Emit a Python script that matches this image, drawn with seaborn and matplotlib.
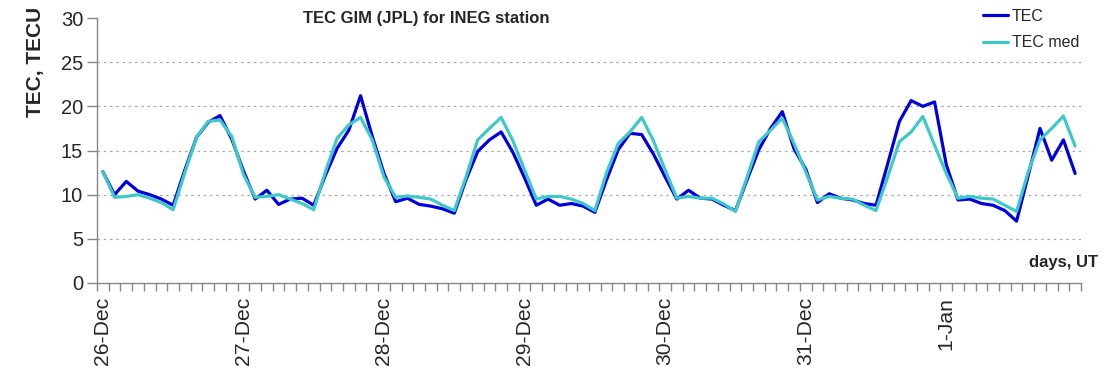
import numpy as np
import pandas as pd
import matplotlib
matplotlib.use("Agg")
import matplotlib.pyplot as plt
import seaborn as sns

# ---- data (2-hour values, 26-Dec .. 1-Jan) ----
tec = [12.6, 10.0, 11.5, 10.4, 10.0, 9.5, 8.8, 12.8, 16.5, 18.2, 18.95, 16.3,
       12.7, 9.5, 10.5, 8.9, 9.5, 9.6, 8.8, 12.2, 15.25, 17.3, 21.2, 16.6,
       12.4, 9.2, 9.6, 8.9, 8.7, 8.4, 7.9, 11.7, 14.9, 16.2, 17.1, 14.8,
       11.9, 8.8, 9.5, 8.8, 9.0, 8.7, 8.0, 11.7, 15.1, 16.95, 16.8, 14.6,
       12.0, 9.5, 10.5, 9.6, 9.5, 8.8, 8.2, 11.7, 15.1, 17.5, 19.4, 15.2,
       12.9, 9.1, 10.1, 9.6, 9.4, 9.0, 8.8, 13.5, 18.3, 20.65, 20.0, 20.5,
       13.4, 9.4, 9.5, 9.0, 8.8, 8.2, 7.0, 12.2, 17.5, 13.9, 16.2, 12.4]
tec_med = [12.6, 9.7, 9.8, 10.0, 9.6, 9.1, 8.3, 12.5, 16.5, 18.3, 18.45, 16.6,
           12.3, 9.7, 9.8, 10.0, 9.5, 9.0, 8.3, 12.6, 16.4, 17.9, 18.75, 16.2,
           12.0, 9.7, 9.85, 9.7, 9.5, 8.8, 8.2, 12.0, 16.2, 17.5, 18.75, 16.1,
           12.8, 9.5, 9.8, 9.8, 9.5, 9.0, 8.2, 12.5, 15.8, 17.1, 18.75, 16.1,
           12.8, 9.6, 9.8, 9.6, 9.6, 8.95, 8.1, 12.0, 16.0, 17.3, 18.65, 15.8,
           12.6, 9.4, 9.8, 9.6, 9.5, 8.8, 8.2, 12.0, 16.0, 17.1, 18.85, 15.6,
           12.4, 9.6, 9.8, 9.6, 9.5, 8.8, 8.1, 12.6, 16.2, 17.5, 18.9, 15.5]
day_labels = ["26-Dec", "27-Dec", "28-Dec", "29-Dec", "30-Dec", "31-Dec", "1-Jan"]
points_per_day = 12
series_names = ["TEC", "TEC med"]
y_ticks = [0, 5, 10, 15, 20, 25, 30]

n = len(tec)
idx = np.arange(n)
df = pd.DataFrame({
    "i": np.concatenate([idx, idx]),
    "value": tec + tec_med,
    "series": [series_names[0]] * n + [series_names[1]] * n,
})

sns.set_style("white")
plt.rcParams["font.family"] = ["Liberation Sans", "DejaVu Sans"]

fig = plt.figure(figsize=(11.07, 3.72), dpi=100)
ax = fig.add_axes([97 / 1107, 1 - 283 / 372, (1081 - 97) / 1107, (283 - 18) / 372])

palette = {"TEC": "#0000DC", "TEC med": "#3FC8C8"}
sns.lineplot(data=df, x="i", y="value", hue="series", palette=palette,
             linewidth=2.3, ax=ax, legend=True)

ax.set_xlim(-0.5, n - 0.5)
ax.set_ylim(0, 30)
ax.set_yticks(y_ticks)
ax.tick_params(axis="y", labelsize=14.5, length=7, width=1, color="#868686",
               direction="out", pad=3, left=True)
ax.set_xticks(np.arange(0, n, points_per_day))
ax.set_xticklabels(day_labels, rotation=90, fontsize=15.2)
ax.set_xticks(np.arange(-0.5, n, 1), minor=True)
ax.tick_params(axis="x", which="major", length=0, pad=10)
ax.tick_params(axis="x", which="minor", length=6, width=1, color="#868686",
               direction="out", bottom=True)

ax.yaxis.grid(True, linestyle=(0, (2, 3)), color="#A8A8A8", linewidth=0.9)
ax.set_axisbelow(True)
gls = ax.get_ygridlines()
gls[0].set_visible(False)
gls[-1].set_visible(False)

for s in ["top", "right"]:
    ax.spines[s].set_visible(False)
for s in ["left", "bottom"]:
    ax.spines[s].set_color("#868686")
    ax.spines[s].set_linewidth(1.0)

ax.set_xlabel("")
ax.set_ylabel("TEC, TECU", fontsize=15, fontweight="bold")
ax.yaxis.set_label_coords(-0.053, 0.834)

leg = ax.legend(loc="upper left", bbox_to_anchor=(983 / 1107, 1 - 9 / 372),
                bbox_transform=fig.transFigure, frameon=False,
                fontsize=11.5, handlelength=1.55, handletextpad=0.25,
                labelspacing=0.7, borderpad=0, borderaxespad=0, title=None)

fig.text(426 / 1107, 1 - 18 / 372, "TEC GIM (JPL) for INEG station",
         ha="center", va="center", fontsize=12, fontweight="bold")
fig.text(1098 / 1107, 1 - 262 / 372, "days, UT", ha="right", va="center",
         fontsize=12, fontweight="bold")

fig.savefig("out.png", dpi=100)
